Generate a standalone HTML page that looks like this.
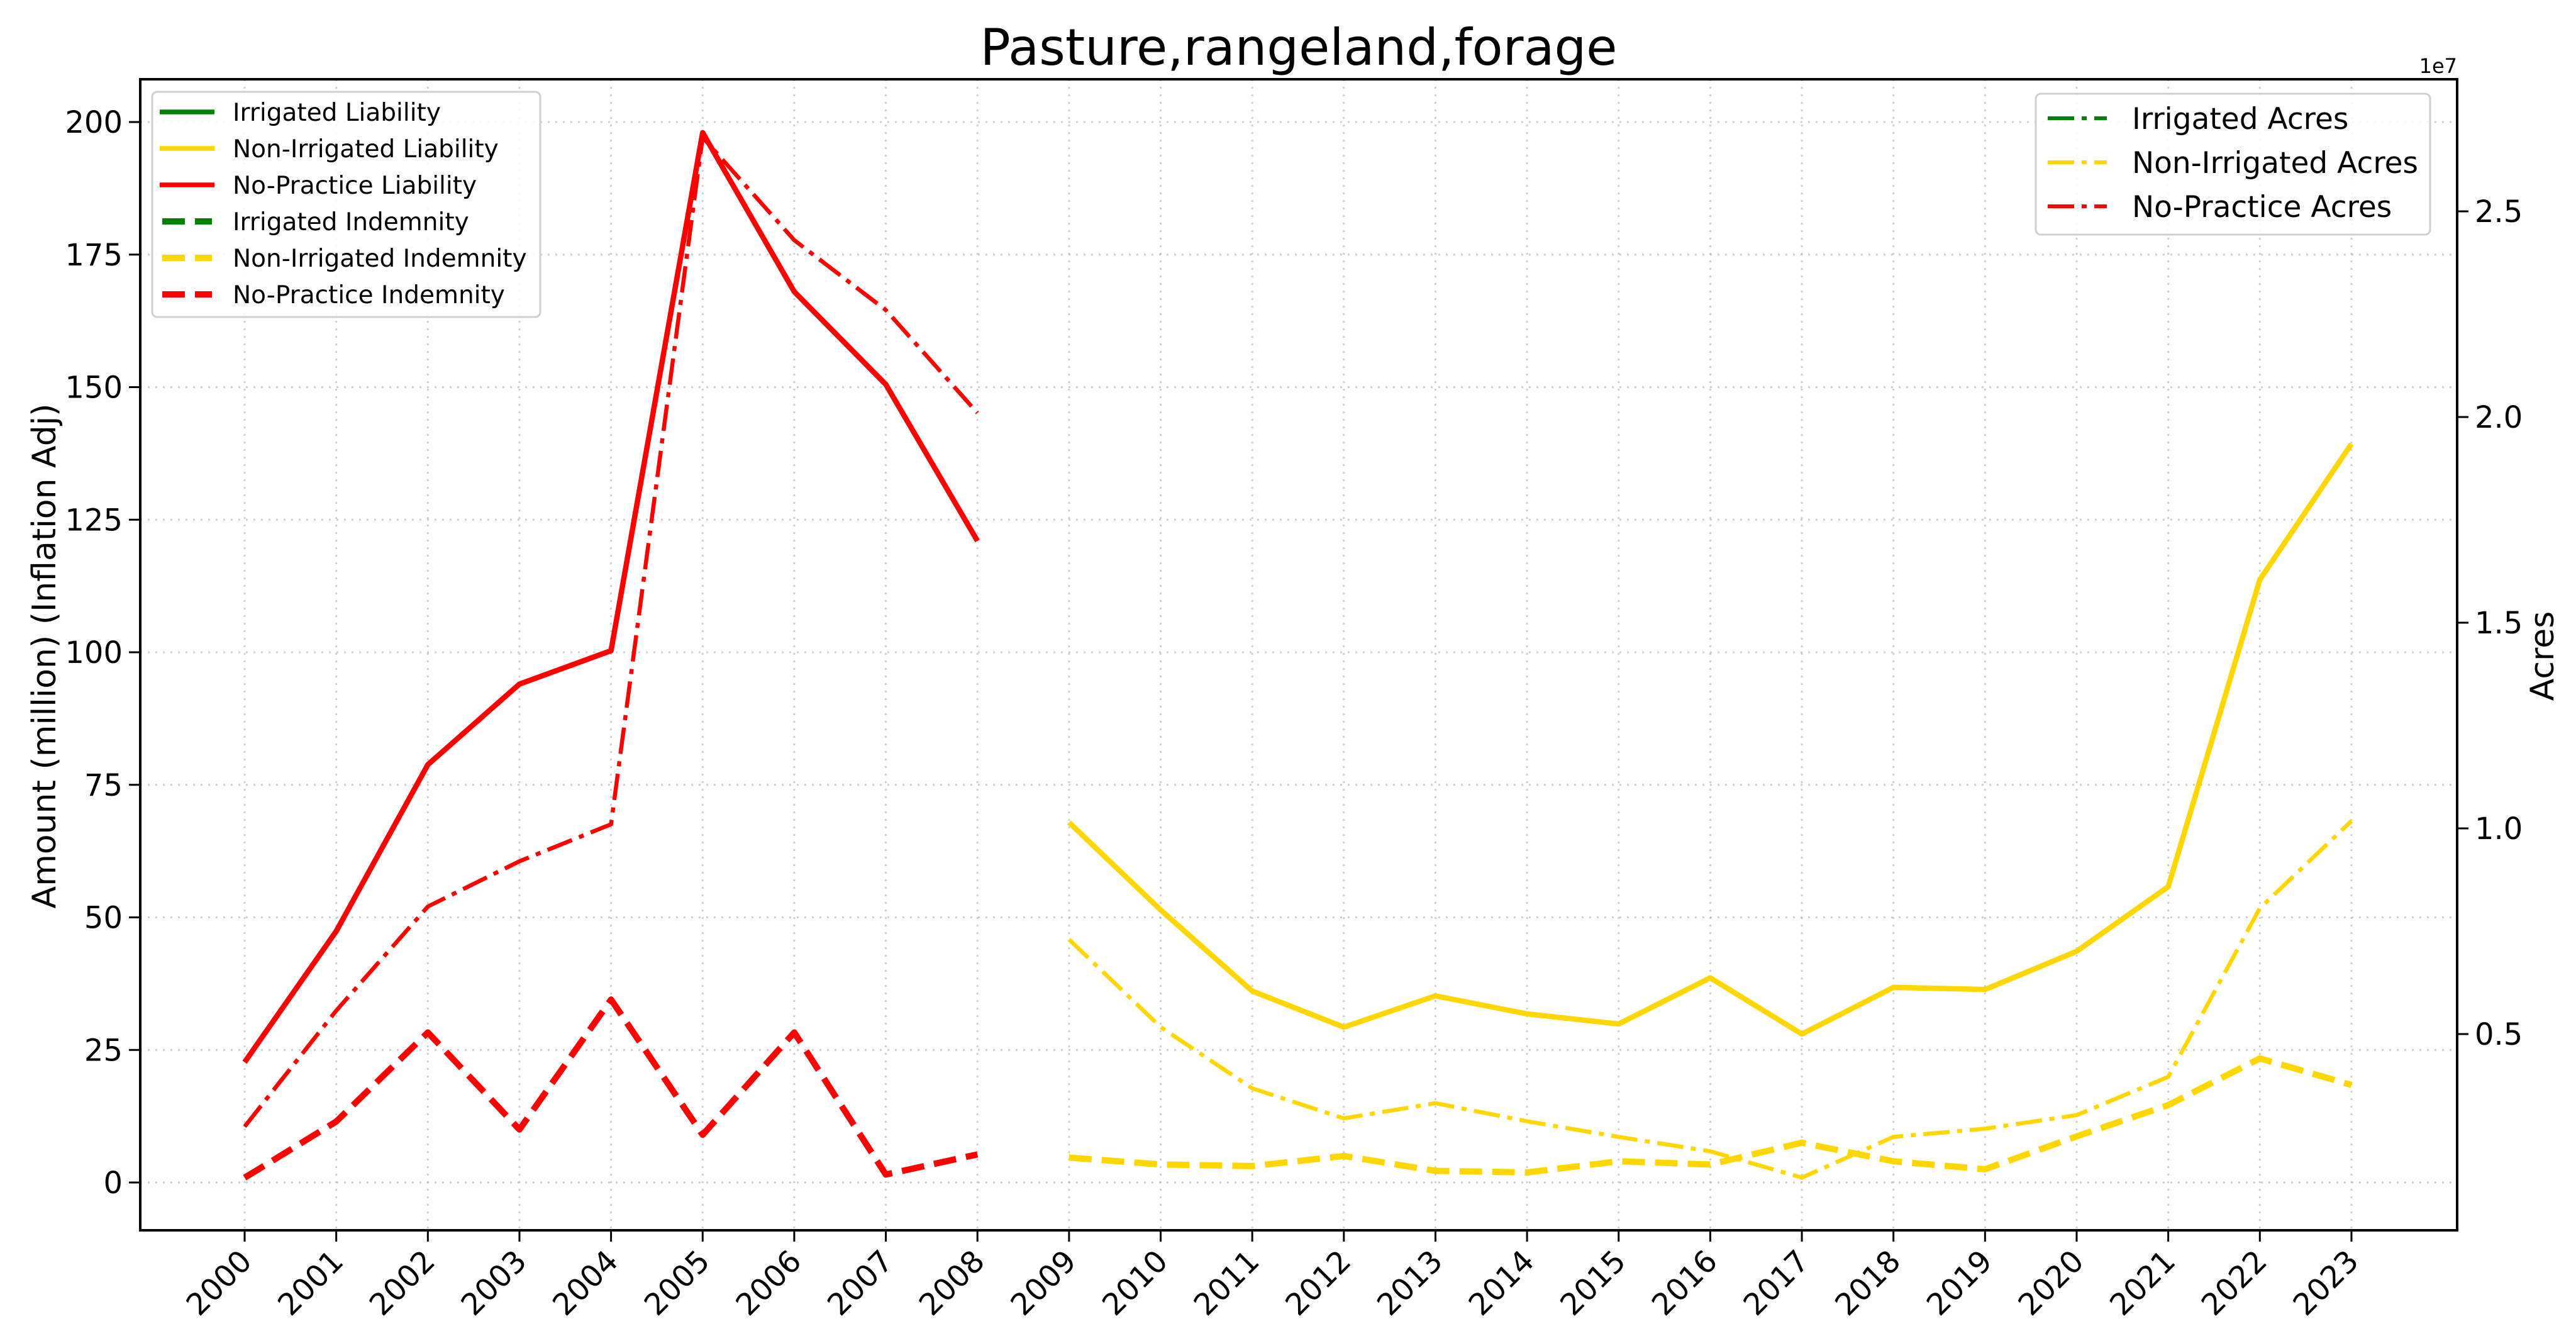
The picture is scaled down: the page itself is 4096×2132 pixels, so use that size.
<!DOCTYPE html>
<html><head><meta charset="utf-8"><style>
html,body{margin:0;padding:0;background:#fff;}
svg{display:block;font-family:"DejaVu Sans","Liberation Sans",sans-serif;}
</style></head><body>
<svg id="chart" width="4096" height="2132" viewBox="0 0 4096 2132" xmlns="http://www.w3.org/2000/svg">
<rect width="4096" height="2132" fill="#fff"/>
<text x="2065" y="103" font-size="80" text-anchor="middle">Pasture,rangeland,forage</text>
<g id="grid"></g>
<g id="series"></g>
<g id="axes"></g>
<g id="legends"></g>
</svg>
<script>
const years = [2000,2001,2002,2003,2004,2005,2006,2007,2008,2009,2010,2011,2012,2013,2014,2015,2016,2017,2018,2019,2020,2021,2022,2023];
const leftTicks = [0,25,50,75,100,125,150,175,200];
const rightTicks = [0.5,1.0,1.5,2.0,2.5];
const rightTickLabels = ["0.5","1.0","1.5","2.0","2.5"];
const npYears = [2000,2001,2002,2003,2004,2005,2006,2007,2008];
const npLiability = [22.7,47.4,78.8,94,100.3,198,168,150.5,121];
const npIndemnity = [0.9,11.5,28.3,10,34.5,9,28.3,1.5,5.3];
const npAcres = [0.275,0.557,0.81,0.92,1.01,2.68,2.43,2.26,2.01];
const niYears = [2009,2010,2011,2012,2013,2014,2015,2016,2017,2018,2019,2020,2021,2022,2023];
const niLiability = [67.9,51.4,36.1,29.3,35.2,31.8,29.9,38.6,28,36.8,36.4,43.6,55.8,113.7,139.3];
const niIndemnity = [4.7,3.4,3.1,5,2.2,1.9,4,3.4,7.5,4,2.5,8.7,14.6,23.4,18.4];
const niAcres = [0.73,0.517,0.368,0.295,0.332,0.288,0.25,0.215,0.151,0.25,0.27,0.303,0.396,0.806,1.018];

const NS="http://www.w3.org/2000/svg";
const L=223,R=3907,T=126,B=1956;
const x=yr=>389+(yr-2000)*145.65;
const yL=v=>1880-v*8.43;
const yR=v=>1644-(v-0.5)*654;
function mk(tag,attrs,parent){const e=document.createElementNS(NS,tag);for(const k in attrs)e.setAttribute(k,attrs[k]);parent.appendChild(e);return e;}
const grid=document.getElementById('grid'),series=document.getElementById('series'),axes=document.getElementById('axes'),leg=document.getElementById('legends');

years.forEach(yr=>{
  const g=mk('line',{x1:x(yr),x2:x(yr),y1:T,y2:B,stroke:'#b0b0b0','stroke-width':3,'stroke-dasharray':'3,9','stroke-opacity':0.6},grid);
  
  
  const t=mk('line',{x1:x(yr),x2:x(yr),y1:B,y2:B+18,stroke:'#000','stroke-width':3},axes);
  
  
  const lb=mk('text',{x:0,y:0,'font-size':48,'text-anchor':'end',transform:`translate(${x(yr)+14},${B+52}) rotate(-45)`},axes);
  
  
  lb.textContent=yr;
});
leftTicks.forEach(v=>{
  const g=mk('line',{x1:L,x2:R,y1:yL(v),y2:yL(v),stroke:'#b0b0b0','stroke-width':3,'stroke-dasharray':'3,9','stroke-opacity':0.6},grid);
  
  
  const t=mk('line',{x1:L-18,x2:L,y1:yL(v),y2:yL(v),stroke:'#000','stroke-width':3},axes);
  
  
  const lb=mk('text',{x:L-28,y:yL(v)+17,'font-size':48,'text-anchor':'end'},axes);
  
  
  lb.textContent=v;
});
rightTicks.forEach((v,i)=>{
  const t=mk('line',{x1:R,x2:R+18,y1:yR(v),y2:yR(v),stroke:'#000','stroke-width':3},axes);
  
  
  const lb=mk('text',{x:R+28,y:yR(v)+17,'font-size':48},axes);
  
  
  lb.textContent=rightTickLabels[i];
});
const frame=mk('rect',{x:L,y:T,width:R-L,height:B-T,fill:'none',stroke:'#000','stroke-width':4},axes);


const yl=mk('text',{x:0,y:0,'font-size':52,'text-anchor':'middle',transform:'translate(88,1043) rotate(-90)'},axes);


yl.textContent='Amount (million) (Inflation Adj)';
const yr2=mk('text',{x:0,y:0,'font-size':52,'text-anchor':'middle',transform:'translate(4060,1043) rotate(-90)'},axes);


yr2.textContent='Acres';
const sci=mk('text',{x:3907,y:116,'font-size':32,'text-anchor':'end'},axes);


sci.textContent='1e7';

const DASH='36,16', DASHDOT='42,12,8,12';
function drawLine(xs,vs,yf,color,w,dash,name){
  const p=mk('polyline',{points:xs.map((yr,i)=>x(yr)+','+yf(vs[i])).join(' '),fill:'none',stroke:color,'stroke-width':w,'stroke-linejoin':'round'},series);
  if(dash)p.setAttribute('stroke-dasharray',dash);
  
  
}
drawLine(npYears,npAcres,yR,'#ff0000',6.5,DASHDOT,'no-practice-acres-line');
drawLine(niYears,niAcres,yR,'#ffd700',6.5,DASHDOT,'non-irrigated-acres-line');
drawLine(npYears,npLiability,yL,'#ff0000',8.5,null,'no-practice-liability-line');
drawLine(niYears,niLiability,yL,'#ffd700',8.5,null,'non-irrigated-liability-line');
drawLine(npYears,npIndemnity,yL,'#ff0000',10,DASH,'no-practice-indemnity-line');
drawLine(niYears,niIndemnity,yL,'#ffd700',10,DASH,'non-irrigated-indemnity-line');

function legendBox(x0,y0,w,h,name){
  const r=mk('rect',{x:x0,y:y0,width:w,height:h,rx:8,fill:'#fff','fill-opacity':0.85,stroke:'#d0d0d0','stroke-width':3},leg);
  
  
}
legendBox(242,146,617,358,'left-legend');
const leftItems=[['Irrigated Liability','#008000',null,7.5],['Non-Irrigated Liability','#ffd700',null,7.5],['No-Practice Liability','#ff0000',null,7.5],['Irrigated Indemnity','#008000',DASH,10],['Non-Irrigated Indemnity','#ffd700',DASH,10],['No-Practice Indemnity','#ff0000',DASH,10]];
leftItems.forEach((it,i)=>{
  const yy=178+i*58;
  const l=mk('line',{x1:it[2]?258:254,x2:it[2]?337:341,y1:yy,y2:yy,stroke:it[1],'stroke-width':it[3]},leg);
  if(it[2])l.setAttribute('stroke-dasharray',DASH);
  
  
  const t=mk('text',{x:370,y:yy+14,'font-size':39},leg);
  
  
  t.textContent=it[0];
});
legendBox(3237,149,627,224,'right-legend');
const rightItems=[['Irrigated Acres','#008000'],['Non-Irrigated Acres','#ffd700'],['No-Practice Acres','#ff0000']];
rightItems.forEach((it,i)=>{
  const yy=188+i*70;
  const l=mk('line',{x1:3256,x2:3350,y1:yy,y2:yy,stroke:it[1],'stroke-width':6,'stroke-dasharray':DASHDOT},leg);
  
  
  const t=mk('text',{x:3390,y:yy+17,'font-size':47},leg);
  
  
  t.textContent=it[0];
});
</script>
</body></html>
